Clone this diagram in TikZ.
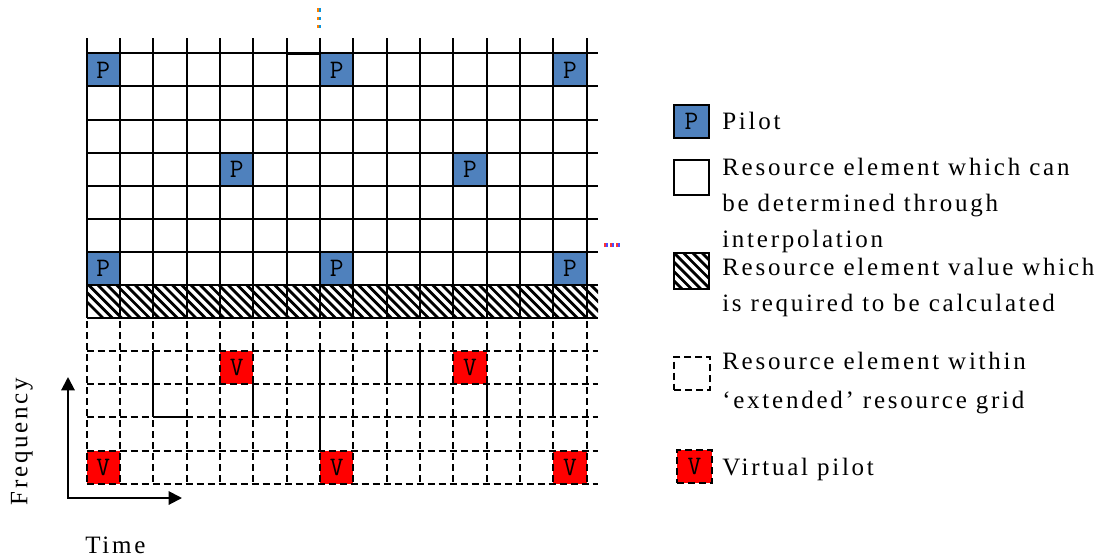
\documentclass[tikz,border=0pt]{standalone}
\usepackage{fontspec}
\setmainfont{Liberation Serif}[LetterSpace=11]
\usetikzlibrary{arrows.meta}
\definecolor{pilotblue}{HTML}{4F81BD}
\definecolor{vred}{HTML}{FF0000}

\begin{document}
\begin{tikzpicture}[x=0.75pt,y=-0.75pt,
   every node/.style={font=\fontsize{18.75}{27}\selectfont},
   gline/.style={line width=1.5pt},
   ext/.style={line width=1.5pt,dash pattern=on 5.25pt off 3pt},
   hatch/.style={line width=2.1pt},
   cell/.style={minimum width=25pt,minimum height=24.8pt,inner sep=0pt,
                font=\ttfamily\fontsize{20}{20}\selectfont},
   pilot/.style={cell,fill=pilotblue},
   vpilot/.style={cell,fill=vred},
   legtext/.style={anchor=base west,align=left,inner sep=0pt},
   axis/.style={line width=1.5pt,
                {Triangle[length=10pt,width=10pt]}-{Triangle[length=10pt,width=10pt]}}
]
\useasboundingbox (0,0) rectangle (1099,558);

% pilots in the resource grid
\foreach \c/\r [count=\n] in {0/0,7/0,14/0,4/3,11/3,0/6,7/6,14/6}
  \node[pilot] (p\n) at ({86.7+33.33*(\c+0.5)},{53.3+33.1*(\r+0.5)}) {P};
% virtual pilots in the extended grid
\foreach \c/\r [count=\n] in {4/9,11/9,0/12,7/12,14/12}
  \node[vpilot] (v\n) at ({86.7+33.33*(\c+0.5)},{53.3+33.1*(\r+0.5)}) {V};

% row to be calculated
\begin{scope}
  \clip (86.7,285) rectangle (598,318.1);
  \foreach \k in {0,...,57}
    \draw[hatch] ({70+9.3*\k},285) -- ({70+9.3*\k+33.1},318.1);
\end{scope}

% resource grid
\foreach \r in {0,...,8}
  \draw[gline] (86.7,{53.3+33.1*\r}) -- (598,{53.3+33.1*\r});
\foreach \c in {0,...,15}
  \draw[gline] ({86.7+33.33*\c},38) -- ({86.7+33.33*\c},318.1);
% extended grid
\foreach \r in {9,...,13}
  \draw[ext] (86.7,{53.3+33.1*\r}) -- (598,{53.3+33.1*\r});
\foreach \c in {0,...,15}
  \draw[ext] ({86.7+33.33*\c},321) -- ({86.7+33.33*\c},483.6);

% stray solid pieces
\draw[line width=2.4pt] (286.7,53.3) -- (320,53.3);
\foreach \x/\a/\b in {153.4/351.2/417.4,253.4/384.3/417.4,320/351.2/450.5,
                      386.7/351.2/384.3,420/351.2/417.4,486.7/384.3/417.4,
                      553.3/351.2/417.4}
  \draw[gline] (\x,\a) -- (\x,\b);
\draw[gline] (153.4,417.4) -- (186.7,417.4);

% continuation dots
\foreach \y in {10,18.3,26.5} {
  \fill[orange] (317.4,{\y-1.6}) rectangle (319.2,{\y+1.6});
  \fill[cyan!80!blue] (319.2,{\y-1.6}) rectangle (321,{\y+1.6});
}
\foreach \x in {606,612,618} {
  \fill[red!80] ({\x-1.6},243.4) rectangle (\x,246.6);
  \fill[blue!70] (\x,243.4) rectangle ({\x+1.6},246.6);
}

% axes
\coordinate (origin) at (68,498);
\coordinate (ftip) at (68,377);
\coordinate (ttip) at (182,498);
\draw[axis] (ftip) -- (origin) -- (ttip);
\node[rotate=90] (freq) at (22,441.5) {Frequency};
\node[anchor=base west,inner sep=0pt] (time) at (85,553) {Time};

% legend
\node[pilot,draw,line width=1.2pt,minimum width=26pt,minimum height=25pt] (lp) at (691.5,121.5) {P};
\node[draw,gline,minimum width=26pt,minimum height=26pt] (lre) at (691.5,177.5) {};
\node[draw,gline,minimum width=26pt,minimum height=27pt,
      path picture={
        \foreach \k in {-4,...,4}
          \draw[hatch] ([xshift=\k*7pt]path picture bounding box.north west) -- ++(27pt,-27pt);
      }] (lhat) at (691.5,271) {};
\node[draw,ext,minimum width=27pt,minimum height=25pt] (lext) at (692,373.5) {};
\node[vpilot,draw,ext,minimum width=26pt,minimum height=25pt] (lvp) at (694.5,466.5) {V};

% texts are placed by the baseline of their last line
\node[legtext] (tp) at (722,129) {Pilot};
\node[legtext] (tre) at (722,247) {Resource element which can\\be determined through\\interpolation};
\node[legtext] (that) at (722,311) {Resource element value which\\is required to be calculated};
\node[legtext] (text) at (722,408) {Resource element within\\[2pt]`extended' resource grid};
\node[legtext] (tvp) at (722,475) {Virtual pilot};
\end{tikzpicture}
\end{document}
